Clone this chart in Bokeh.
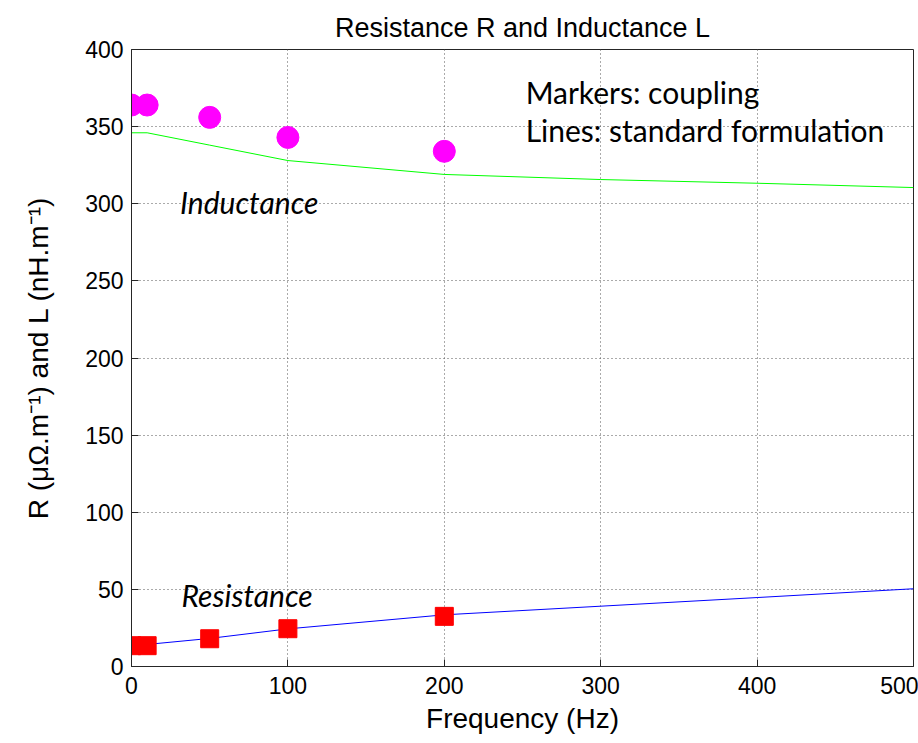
from bokeh.plotting import figure
from bokeh.models import ColumnDataSource, Range1d, SingleIntervalTicker, Label
from bokeh.embed import file_html
from bokeh.resources import INLINE

# ---- data ----
freq_markers = [0, 10, 50, 100, 200]
L_coupling = [364, 364, 356, 343, 334]
R_coupling = [13.5, 13.5, 18, 24.5, 32.5]

freq_lines = [0, 10, 50, 100, 200, 300, 400, 500]
L_standard = [346, 346, 338, 328, 319, 315.7, 313.3, 310.5]
R_standard = [13.4, 14.3, 18.2, 24.4, 33.5, 39.1, 44.7, 50.4]

title_text = "Resistance R and Inductance L"
x_label = "Frequency (Hz)"
y_label = "R (\u03bc\u03a9.m\u207b\u00b9) and L (nH.m\u207b\u00b9)"

markers_src = ColumnDataSource(dict(f=freq_markers, L=L_coupling, R=R_coupling))
lines_src = ColumnDataSource(dict(f=freq_lines, L=L_standard, R=R_standard))

p = figure(width=918, height=743, output_backend="svg", toolbar_location=None,
           x_range=Range1d(0, 500), y_range=Range1d(0, 400),
           min_border_left=131, min_border_right=5, min_border_top=49,
           min_border_bottom=77, title=title_text)

p.title.align = "center"
p.title.text_font = "Liberation Sans"
p.title.text_font_size = "27px"
p.title.text_font_style = "normal"
p.title.text_color = "black"
p.title.standoff = 14

p.background_fill_color = "white"
p.border_fill_color = "white"
p.outline_line_color = "#262626"
p.outline_line_width = 1

TICK_FONT = "Liberation Sans"

for ax in (p.xaxis[0], p.yaxis[0]):
    ax.major_tick_in = 7
    ax.major_tick_out = 0
    ax.minor_tick_in = 0
    ax.minor_tick_out = 0
    ax.axis_line_color = "#262626"
    ax.major_tick_line_color = "#262626"
    ax.major_label_text_font = TICK_FONT
    ax.major_label_text_font_size = "23px"
    ax.major_label_text_color = "black"
    ax.axis_label_text_font = TICK_FONT
    ax.axis_label_text_font_size = "28px"
    ax.axis_label_text_font_style = "normal"
    ax.axis_label_text_color = "black"

p.xaxis[0].ticker = SingleIntervalTicker(interval=100)
p.yaxis[0].ticker = SingleIntervalTicker(interval=50)
p.xaxis[0].axis_label = x_label
p.yaxis[0].axis_label = y_label
p.xaxis[0].major_label_standoff = 10
p.xaxis[0].axis_label_standoff = 6
p.yaxis[0].major_label_standoff = 8
p.yaxis[0].axis_label_standoff = 28

for g in (p.xgrid[0], p.ygrid[0]):
    g.grid_line_color = "#555555"
    g.grid_line_dash = "1 3"
    g.grid_line_width = 1
p.xgrid[0].ticker = p.xaxis[0].ticker
p.ygrid[0].ticker = p.yaxis[0].ticker

# standard formulation lines
p.line("f", "L", source=lines_src, line_color="#00ff00", line_width=1)
p.line("f", "R", source=lines_src, line_color="#0000ff", line_width=1)

# coupling markers
p.scatter("f", "L", source=markers_src, marker="circle", size=22,
          fill_color="#ff00ff", line_color="#ff00ff")
p.scatter("f", "R", source=markers_src, marker="square", size=18,
          fill_color="#ff0000", line_color="#ff0000")

ANN_FONT = "Lato"
for txt, x, y, style in (("Inductance", 31, 301, "italic"),
                         ("Resistance", 32, 46.5, "italic"),
                         ("Markers: coupling", 252, 372.3, "normal"),
                         ("Lines: standard formulation", 252, 347.5, "normal")):
    p.add_layout(Label(x=x, y=y, text=txt, text_font=ANN_FONT, text_font_size="30px",
                       text_font_style=style, text_color="black",
                       text_baseline="alphabetic", text_align="left"))

open("out.html", "w").write(file_html(p, INLINE))
